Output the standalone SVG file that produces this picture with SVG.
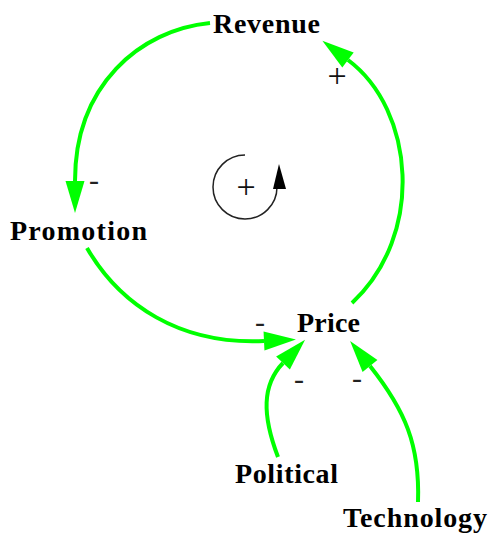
<svg xmlns="http://www.w3.org/2000/svg" width="492" height="537" viewBox="0 0 492 537">
<style>
.lbl{font-family:"Liberation Serif","Times New Roman",serif;font-weight:bold;font-size:28px;fill:#000}
.sgn{font-family:"Liberation Serif","Times New Roman",serif;font-size:34px;fill:#111;text-anchor:middle}
.neg{font-family:"Liberation Serif","Times New Roman",serif;font-size:30px;fill:#222;text-anchor:middle}
.link{fill:none;stroke:#00ff00;stroke-width:4;marker-end:url(#ah)}
</style>
<defs>
<marker id="ah" markerUnits="userSpaceOnUse" markerWidth="40" markerHeight="40" refX="0" refY="0" orient="auto" overflow="visible">
<path d="M0,-9.5 L32,0 L0,9.5 z" fill="#00ff00"/>
</marker>
</defs>
<rect width="492" height="537" fill="#fff"/>
<g id="connectors">
<path class="link" d="M210,23 C140,30 75,85 75,181"/>
<path class="link" d="M352,303 C425,235 415,110 348,60"/>
<path class="link" d="M87,248 C120,305 180,345 264,341"/>
<path class="link" d="M278,457 C262,415 262,385 283,363"/>
<path class="link" d="M418,502 C420,445 405,410 370,366"/>
</g>
<g id="signs">
<text class="sgn" x="337" y="87">+</text>
<text class="neg" x="94" y="190">-</text>
<text class="neg" x="260" y="332">-</text>
<text class="neg" x="299" y="389">-</text>
<text class="neg" x="357" y="388">-</text>
</g>
<g id="loop">
<path d="M245,155 A32,32 0 1,0 277,187" fill="none" stroke="#222" stroke-width="1.5"/>
<polygon points="279,164 273,189 286,189" fill="#000"/>
<text class="sgn" x="246" y="198">+</text>
</g>
<g id="revenue"><text class="lbl" x="213" y="33" textLength="107">Revenue</text></g>
<g id="promotion"><text class="lbl" x="10" y="240" textLength="137">Promotion</text></g>
<g id="price"><text class="lbl" x="297" y="332" textLength="63">Price</text></g>
<g id="political"><text class="lbl" x="235" y="483" textLength="103">Political</text></g>
<g id="technology"><text class="lbl" x="343" y="527" textLength="144">Technology</text></g>
</svg>
